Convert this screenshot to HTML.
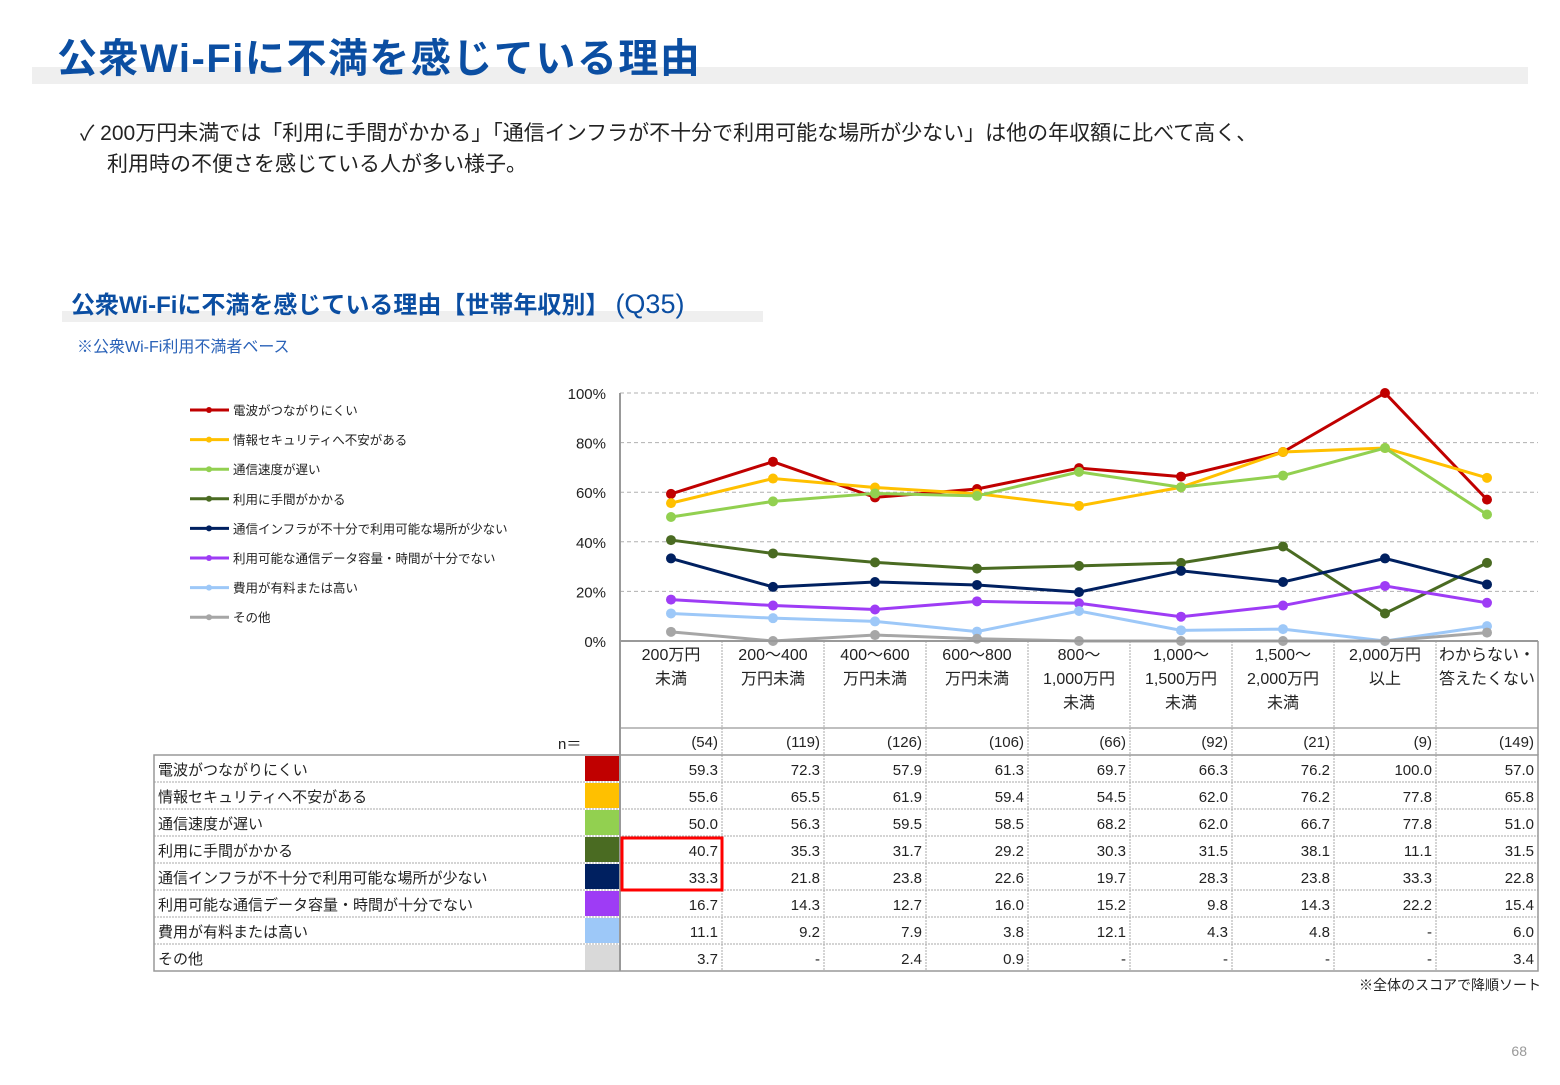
<!DOCTYPE html>
<html><head><meta charset="utf-8"><style>
body{margin:0;width:1560px;height:1080px;background:#fff;overflow:hidden;font-family:"Liberation Sans","Noto Sans CJK JP",sans-serif;}
svg text{font-family:"Liberation Sans","Noto Sans CJK JP",sans-serif;}
</style></head><body>
<svg id="s" width="1560" height="1080" xmlns="http://www.w3.org/2000/svg">
<rect x="32" y="67" width="1496" height="17" fill="#efefef"/>
<text x="57" y="72" font-size="40" font-weight="bold" fill="#0b4ea2" letter-spacing="1.5">公衆Wi-Fiに不満を感じている理由</text>
<text x="80" y="140" font-size="21" fill="#222">✓ 200万円未満では「利用に手間がかかる」「通信インフラが不十分で利用可能な場所が少ない」は他の年収額に比べて高く、</text>
<text x="107" y="171" font-size="21" fill="#222">利用時の不便さを感じている人が多い様子。</text>
<rect x="62" y="311" width="701" height="11" fill="#efefef"/>
<text x="71" y="313" font-size="24" font-weight="bold" fill="#0b4ea2">公衆Wi-Fiに不満を感じている理由【世帯年収別】<tspan font-weight="normal" font-size="27" dx="6">(Q35)</tspan></text>
<text x="77" y="352" font-size="16" fill="#2a62b8">※公衆Wi-Fi利用不満者ベース</text>
<text x="1541" y="990" font-size="14" fill="#222" text-anchor="end">※全体のスコアで降順ソート</text>
<text x="1527" y="1056" font-size="14" fill="#999" text-anchor="end">68</text>
<g id="chart"></g>
<g id="table"></g>
</svg>
<script>
const categories=[["200万円","未満"],["200～400","万円未満"],["400～600","万円未満"],["600～800","万円未満"],["800～","1,000万円","未満"],["1,000～","1,500万円","未満"],["1,500～","2,000万円","未満"],["2,000万円","以上"],["わからない・","答えたくない"]];
const nValues=[54,119,126,106,66,92,21,9,149];
const seriesNames=["電波がつながりにくい","情報セキュリティへ不安がある","通信速度が遅い","利用に手間がかかる","通信インフラが不十分で利用可能な場所が少ない","利用可能な通信データ容量・時間が十分でない","費用が有料または高い","その他"];
const seriesColors=["#c00000","#ffc000","#92d050","#4a6b22","#002060","#9e3cf5","#9dc8f8","#a6a6a6"];
const s1=[59.3,72.3,57.9,61.3,69.7,66.3,76.2,100.0,57.0];
const s2=[55.6,65.5,61.9,59.4,54.5,62.0,76.2,77.8,65.8];
const s3=[50.0,56.3,59.5,58.5,68.2,62.0,66.7,77.8,51.0];
const s4=[40.7,35.3,31.7,29.2,30.3,31.5,38.1,11.1,31.5];
const s5=[33.3,21.8,23.8,22.6,19.7,28.3,23.8,33.3,22.8];
const s6=[16.7,14.3,12.7,16.0,15.2,9.8,14.3,22.2,15.4];
const s7=[11.1,9.2,7.9,3.8,12.1,4.3,4.8,null,6.0];
const s8=[3.7,null,2.4,0.9,null,null,null,null,3.4];
const seriesData=[s1,s2,s3,s4,s5,s6,s7,s8];
const yTicks=[0,20,40,60,80,100];
const NS="http://www.w3.org/2000/svg";
const X0=620,CW=102,Y0=641,Y1=393;
const xs=i=>X0+CW*i+CW/2;
const ys=v=>Y0-(v/100)*(Y0-Y1);
function mk(p,tag,a,t){const e=document.createElementNS(NS,tag);for(const k in a)e.setAttribute(k,a[k]);if(t!=null)e.textContent=t;p.appendChild(e);return e;}
const ch=document.getElementById('chart'),tb=document.getElementById('table');
yTicks.forEach(t=>{
 if(t>0){const l=mk(ch,'line',{x1:X0,x2:X0+CW*9,y1:ys(t),y2:ys(t),stroke:'#b0b0b0','stroke-dasharray':'4,3'});
 
 }
 const tx=mk(ch,'text',{x:606,y:ys(t)+6,'font-size':15,'text-anchor':'end',fill:'#222'},t+'%');
 
 
});
seriesData.forEach((d,si)=>{
 const pts=d.map((v,i)=>xs(i)+','+ys(v==null?0:v)).join(' ');
 const pl=mk(ch,'polyline',{points:pts,fill:'none',stroke:seriesColors[si],'stroke-width':3});
 
 
});
seriesData.forEach((d,si)=>{d.forEach((v,i)=>{
 const c=mk(ch,'circle',{cx:xs(i),cy:ys(v==null?0:v),r:5,fill:seriesColors[si]});
 
 
});});
seriesNames.forEach((n,si)=>{
 const y=410+si*29.6;
 const l=mk(ch,'line',{x1:190,x2:229,y1:y,y2:y,stroke:seriesColors[si],'stroke-width':3});
 
 
 const c=mk(ch,'circle',{cx:209,cy:y,r:3,fill:seriesColors[si]});
 
 
 const t=mk(ch,'text',{x:233,y:y+5,'font-size':12.5,fill:'#222'},n);
 
 
});
const TR=755,RH=27;
categories.forEach((c,i)=>{
 c.forEach((line,k)=>{const t=mk(tb,'text',{x:xs(i),y:660+k*24,'font-size':16,'text-anchor':'middle',fill:'#222'},line);
 
 });
 const n=mk(tb,'text',{x:X0+CW*(i+1)-4,y:747,'font-size':15,'text-anchor':'end',fill:'#222'},'('+nValues[i]+')');
 
 
});
const nl=mk(tb,'text',{x:558,y:749,'font-size':15,fill:'#222'},'n＝');


for(let i=1;i<9;i++){const l=mk(tb,'line',{x1:X0+CW*i,x2:X0+CW*i,y1:641,y2:TR+RH*8,stroke:'#aaa','stroke-dasharray':'2,1'});
 
 }
mk(tb,'line',{x1:X0,x2:X0+CW*9,y1:728,y2:728,stroke:'#aaa','stroke-width':1.5});
seriesNames.forEach((n,si)=>{
 const y=TR+RH*si;
 if(si>0){const l=mk(tb,'line',{x1:154,x2:1538,y1:y,y2:y,stroke:'#aaa','stroke-dasharray':'2,1'});
 
 }
 const t=mk(tb,'text',{x:158,y:y+20,'font-size':15,fill:'#222'},n);
 
 
 const sw=mk(tb,'rect',{x:585,y:y+1,width:34,height:RH-2,fill:si==7?'#d9d9d9':seriesColors[si]});
 
 
 seriesData[si].forEach((v,i)=>{
  const c=mk(tb,'text',{x:X0+CW*(i+1)-4,y:y+20,'font-size':15,'text-anchor':'end',fill:'#222'},v==null?'-':v.toFixed(1));
  
  
 });
});
mk(tb,'rect',{x:154,y:TR,width:1384,height:RH*8,fill:'none',stroke:'#999','stroke-width':1.5});
mk(tb,'line',{x1:X0,x2:X0,y1:393,y2:TR+RH*8,stroke:'#999','stroke-width':2});
mk(tb,'line',{x1:X0+CW*9,x2:X0+CW*9,y1:641,y2:TR,stroke:'#999','stroke-width':1.5});
mk(tb,'line',{x1:X0,x2:X0+CW*9,y1:641,y2:641,stroke:'#999','stroke-width':2});
const hl=mk(tb,'rect',{x:622,y:TR+RH*3+2,width:100,height:RH*2-2,fill:'none',stroke:'#ff0000','stroke-width':3});


</script>
</body></html>
